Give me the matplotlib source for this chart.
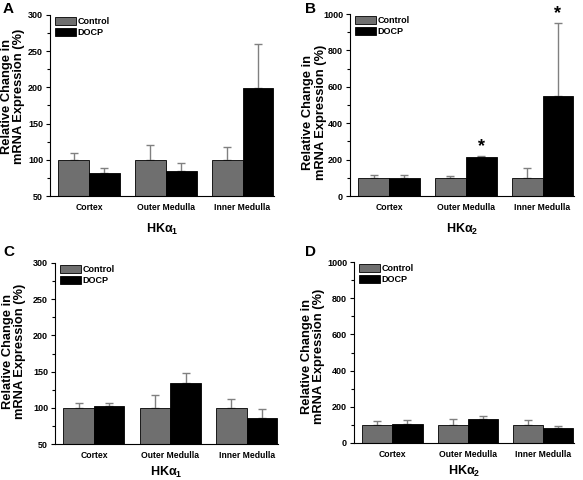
import matplotlib
matplotlib.use('Agg')
import matplotlib.pyplot as plt
import numpy as np

plt.rcParams['font.family'] = 'Liberation Sans'
plt.rcParams['font.weight'] = 'bold'
plt.rcParams['axes.labelweight'] = 'bold'
plt.rcParams['mathtext.fontset'] = 'custom'
plt.rcParams['mathtext.rm'] = 'Liberation Sans:bold'
plt.rcParams['mathtext.it'] = 'Liberation Sans:bold'
plt.rcParams['mathtext.bf'] = 'Liberation Sans:bold'
plt.rcParams['mathtext.default'] = 'rm'

regions = ['Cortex', 'Outer Medulla', 'Inner Medulla']

# panel A: HKa1 (ylim 50-300)
a_ctrl = [100, 100, 100]
a_ctrl_err = [9, 21, 18]
a_docp = [82, 85, 199]
a_docp_err = [7, 11, 61]

# panel B: HKa2 (ylim 0-1000)
b_ctrl = [100, 100, 100]
b_ctrl_err = [18, 8, 52]
b_docp = [97, 213, 550]
b_docp_err = [16, 5, 398]
b_star = [False, True, True]

# panel C: HKa1
c_ctrl = [100, 100, 100]
c_ctrl_err = [6, 18, 12]
c_docp = [102, 134, 86]
c_docp_err = [5, 14, 12]

# panel D: HKa2
d_ctrl = [100, 100, 100]
d_ctrl_err = [22, 33, 27]
d_docp = [105, 135, 82]
d_docp_err = [23, 15, 13]

W, H = 583, 480
fig = plt.figure(figsize=(W / 100, H / 100), dpi=100)


def px_axes(l, r, t, b):
    return fig.add_axes([l / W, 1 - b / H, (r - l) / W, (b - t) / H])


def panel(ax, ctrl, ctrl_err, docp, docp_err, ylim, major, minor, sub,
          ylab_xy, xlab_y, star=None):
    x = np.arange(len(regions))
    w = 0.40
    ax.bar(x - w / 2, ctrl, w, color='#6f6f6f', edgecolor='black', linewidth=0.6,
           label='Control', zorder=2)
    ax.bar(x + w / 2, docp, w, color='black', edgecolor='black', linewidth=0.6,
           label='DOCP', zorder=2)
    ax.errorbar(x - w / 2, ctrl, yerr=[np.zeros(3), ctrl_err], fmt='none',
                ecolor='#808080', elinewidth=1, capsize=3, capthick=1, zorder=1)
    ax.errorbar(x + w / 2, docp, yerr=[np.zeros(3), docp_err], fmt='none',
                ecolor='#808080', elinewidth=1, capsize=3, capthick=1, zorder=1)
    if star is not None:
        for i in range(3):
            if star[i]:
                ax.text(x[i] + w / 2, docp[i] + docp_err[i] + ylim[1] * 0.005, '*',
                        ha='center', va='bottom', fontsize=13, fontweight='bold')
    ax.set_xlim(-0.51, 2.41)
    ax.set_ylim(*ylim)
    ax.set_yticks(np.arange(ylim[0], ylim[1] + 1, major))
    ax.set_yticks(np.arange(ylim[0], ylim[1] + 1, minor), minor=True)
    ax.set_xticks(x)
    ax.set_xticklabels(regions)
    ax.tick_params(axis='x', length=0, labelsize=6.2, pad=5)
    ax.tick_params(axis='y', which='major', length=3, labelsize=6.5, width=0.8, pad=2)
    ax.tick_params(axis='y', which='minor', length=2, width=0.8)
    for s in ['top', 'right']:
        ax.spines[s].set_visible(False)
    ax.spines['left'].set_linewidth(0.8)
    ax.spines['bottom'].set_linewidth(0.8)
    ax.set_ylabel('Relative Change in\nmRNA Expression (%)', fontsize=9.3,
                  fontweight='bold', linespacing=1.05)
    ax.yaxis.set_label_coords(*ylab_xy)
    ax.set_xlabel(r'HK$\alpha_' + sub + '$', fontsize=9, fontweight='bold')
    ax.xaxis.set_label_coords(0.5, xlab_y)
    ax.legend(loc='upper left', bbox_to_anchor=(0.0, 1.02), frameon=False,
              fontsize=6.5, handlelength=2.3, handleheight=1.0,
              handletextpad=0.15, labelspacing=0.25, borderaxespad=0.2)


axA = px_axes(50, 274, 15, 196)
panel(axA, a_ctrl, a_ctrl_err, a_docp, a_docp_err, (50, 300), 50, 25, '1',
      (-0.11, 0.55), -0.145)
axB = px_axes(350, 574, 14, 196)
panel(axB, b_ctrl, b_ctrl_err, b_docp, b_docp_err, (0, 1000), 200, 100, '2',
      (-0.103, 0.46), -0.145, b_star)
axC = px_axes(55, 278, 263, 444)
panel(axC, c_ctrl, c_ctrl_err, c_docp, c_docp_err, (50, 300), 50, 25, '1',
      (-0.13, 0.51), -0.116)
axD = px_axes(354, 574, 262, 443)
panel(axD, d_ctrl, d_ctrl_err, d_docp, d_docp_err, (0, 1000), 200, 100, '2',
      (-0.132, 0.48), -0.116)

for lab, xx, yy in [('A', 3, 2), ('B', 305, 2), ('C', 3, 245), ('D', 305, 245)]:
    fig.text(xx / W, 1 - yy / H, lab, fontsize=11, fontweight='bold', va='top', ha='left')

fig.savefig('out.png', dpi=100)
